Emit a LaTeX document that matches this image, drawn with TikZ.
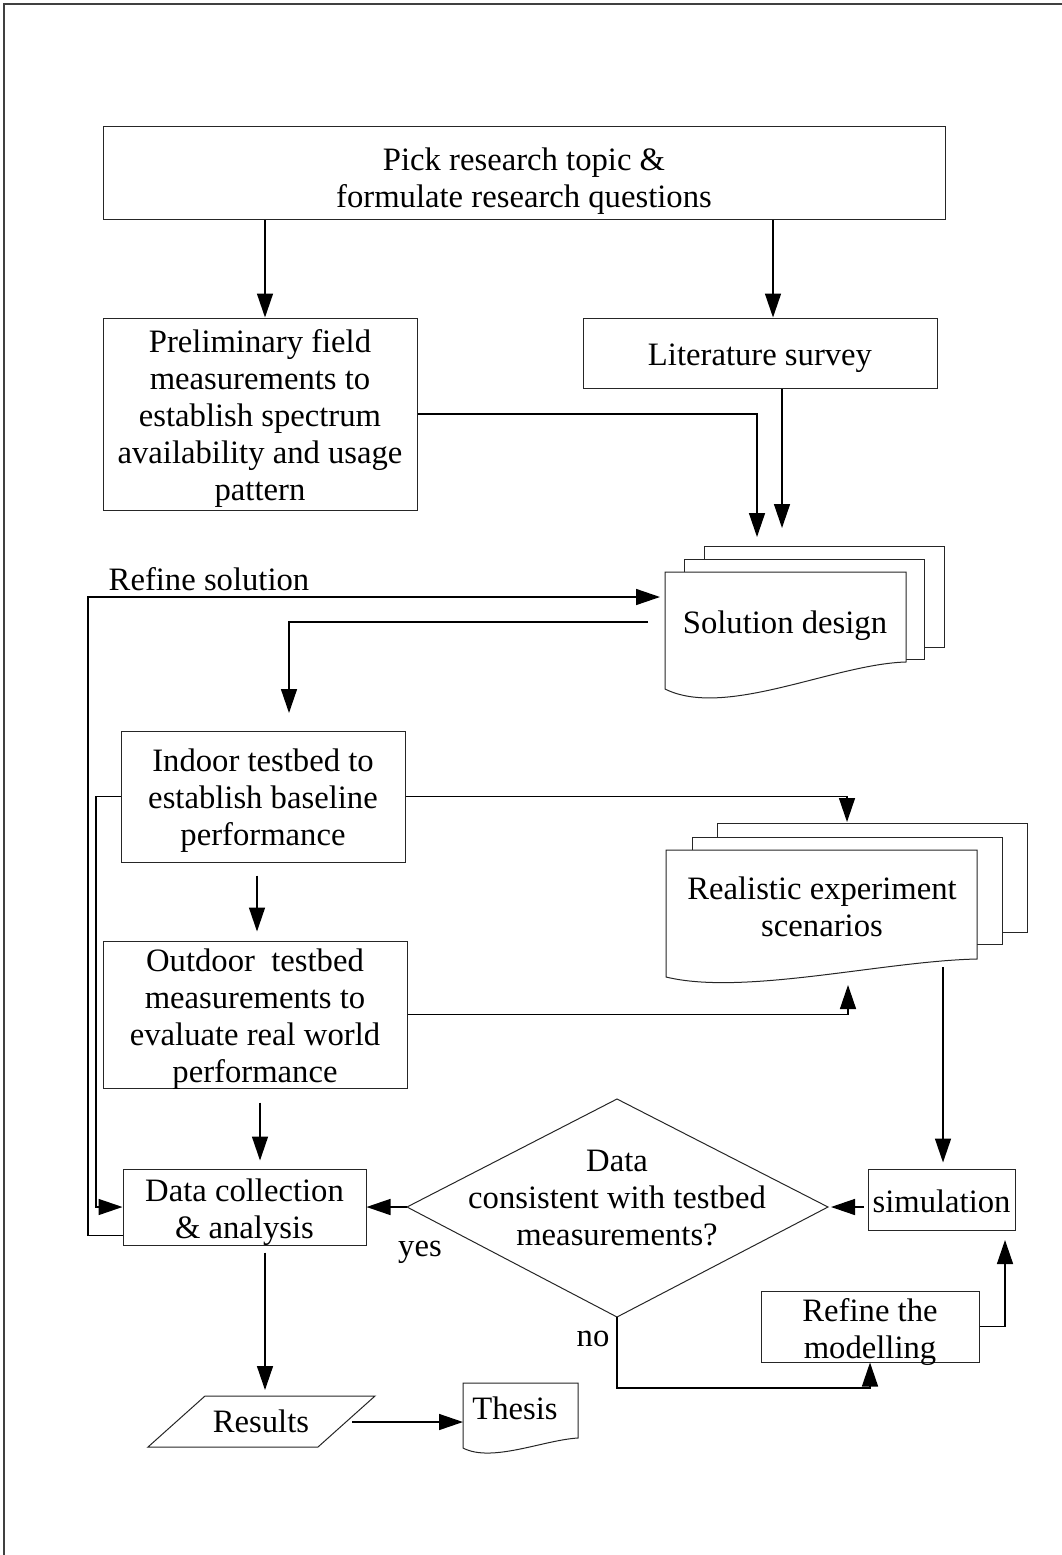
\documentclass[tikz,border=0pt]{standalone}
\usepackage{fontspec}
\setmainfont{Liberation Serif}
\usetikzlibrary{arrows.meta,calc}
\newcommand\docpage[6]{%
 \draw[boxline,fill=white] (#1,#2) -- (#3,#2) -- (#3,#4) .. controls ({#3-0.3*(#3-#1)},{#4+2}) and ({#1+0.25*(#3-#1)},{#5+#6}) .. (#1,#5) -- cycle;}
\begin{document}
\begin{tikzpicture}[x=0.75pt,y=-0.75pt,
 boxline/.style={draw=black!85, line width=0.75pt},
 box/.style={boxline, rectangle, inner sep=0pt, align=center},
 sz/.style 2 args={minimum width=#1*0.75pt, minimum height=#2*0.75pt},
 txt/.style={align=center, inner sep=0pt},
 conn/.style={line width=1.1pt},
 arr/.style={conn, -{Triangle[length=18pt,width=12pt]}},
 every node/.style={font=\fontsize{24.5}{27.75}\selectfont}]
\useasboundingbox (0,0) rectangle (1062,1555);
\draw[black!75, line width=1.2pt] (4,1555) -- (4,4) -- (1062,4);

% boxes
\node[box, sz={842}{93}] (top) at (524,173.5) {};
\node[txt] (topT) at ([yshift=-6pt]top.center) {Pick research topic \&\\formulate research questions};
\node[box, sz={314}{192}] (prelim) at (260,414) {};
\node[txt] (prelimT) at ([yshift=-3.4pt]prelim.center) {Preliminary field\\measurements to\\establish spectrum\\availability and usage\\pattern};
\node[box, sz={354}{70}] (lit) at (760,353) {};
\node[txt] (litT) at ([yshift=-3.6pt]lit.center) {Literature survey};

% solution design stack
\draw[boxline, fill=white] (704,546) rectangle (944,647);
\draw[boxline, fill=white] (684,559) rectangle (924,659);
\docpage{665}{572}{906}{662}{689}{30}
\node[txt] (sol) at (785,626) {Solution design};

\node[box, sz={284}{131}] (indoor) at (263,796.5) {};
\node[txt] (indoorT) at ([yshift=-3.2pt]indoor.center) {Indoor testbed to\\establish baseline\\performance};

% realistic stack
\draw[boxline, fill=white] (717,823) rectangle (1027,932);
\draw[boxline, fill=white] (692,837) rectangle (1002,944);
\docpage{666}{850}{977}{959}{977}{19}
\node[txt] (real) at (822,907) {Realistic experiment\\scenarios};

\node[box, sz={304}{147}] (outdoor) at (255,1014.5) {};
\node[txt] (outdoorT) at ([yshift=-3.6pt]outdoor.center) {Outdoor~ testbed\\measurements to\\evaluate real world\\performance};
\node[box, sz={243}{76}] (data) at (244.5,1207) {};
\node[txt] (dataT) at ([yshift=-3.6pt]data.center) {Data collection\\\& analysis};

% decision
\coordinate (dT) at (617,1099);
\coordinate (dR) at (828,1207);
\coordinate (dB) at (617,1317);
\coordinate (dL) at (407,1207);
\draw[boxline] (dT) -- (dR) -- (dB) -- (dL) -- cycle;
\node[txt] (dec) at (617,1198) {Data\\consistent with testbed\\measurements?};

\node[box, sz={147}{61}] (sim) at (941.5,1199.5) {};
\node[txt] (simT) at ([yshift=-1.5pt]sim.center) {simulation};
\node[box, sz={218}{71}] (refine) at (870,1326.5) {};
\node[txt] (refineT) at ([yshift=-3.8pt]refine.center) {Refine the\\modelling};

% results & thesis
\draw[boxline] (205,1396) -- (375,1396) -- (318,1447) -- (148,1447) -- cycle;
\node[txt] (res) at (261,1421) {Results};
\docpage{463}{1383}{578}{1438}{1448}{15}
\node[txt] (thesis) at (515,1408) {Thesis};

% helper coordinates
\coordinate (c265) at (265,0);
\coordinate (c773) at (773,0);
\coordinate (c257) at (257,0);
\coordinate (c260) at (260,0);
\coordinate (solA) at (757,537);
\coordinate (solB) at (782,528);
\coordinate (solOut) at (648,622);
\coordinate (solIn) at (660,597);
\coordinate (indoorIn) at (289,713);
\coordinate (loopX) at (88,0);
\coordinate (innerX) at (96,0);
\coordinate (realIn) at (847,822);
\coordinate (realIn2) at (848,985);
\coordinate (realOut) at (943,967);
\coordinate (low) at (0,1388);
\coordinate (simIn) at (1005,1240);
\coordinate (resIn) at (265,1390);
\coordinate (resOut) at (352,1422);
\coordinate (thIn) at (463,1422);

% connectors
\draw[arr] (top.south -| c265) -- (prelim.north -| c265);
\draw[arr] (top.south -| c773) -- (lit.north -| c773);
\draw[arr] (prelim.east) -| (solA);
\draw[arr] (lit.south -| solB) -- (solB);
\draw[arr] (solOut) -| (indoorIn);
\draw[arr] ([yshift=7.5pt]data.south west) -| (loopX |- solIn) -- (solIn);
\node (refsol) at (209,579) {Refine solution};
\draw[arr] (indoor.west) -- (indoor.west -| innerX) |- (data.west);
\draw[arr] (indoor.east) -| (realIn);
\draw[arr, shorten <=9.75pt, shorten >=6.75pt] (indoor.south -| c257) -- (outdoor.north -| c257);
\draw[arr] (outdoor.east) -| (realIn2);
\draw[arr, shorten <=10.5pt, shorten >=6pt] (outdoor.south -| c260) -- (data.north -| c260);
\draw[arr, shorten >=4.5pt] (realOut) -- (sim.north -| realOut);
\draw[arr, shorten <=3pt, shorten >=2.25pt] (sim.west |- dR) -- (dR);
\draw[arr] (dL) -- (data.east);
\draw[arr] (dB) -- (dB |- low) -| (refine.south);
\draw[arr] (refine.east) -| (simIn);
\draw[arr, shorten <=5.25pt] (data.south -| resIn) -- (resIn);
\draw[arr] (resOut) -- (thIn);

\node (yes) at (420,1252) {yes};
\node (no) at (593,1339) {no};
\end{tikzpicture}
\end{document}
